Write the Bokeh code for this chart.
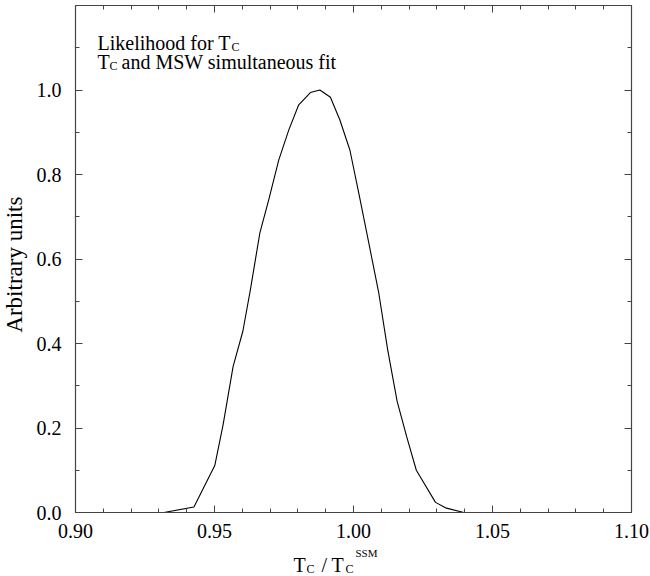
import math
from bokeh.plotting import figure
from bokeh.models import LinearAxis, FixedTicker, PrintfTickFormatter, Range1d
from bokeh.layouts import column, row
from bokeh.core.properties import value
from bokeh.embed import file_html
from bokeh.resources import INLINE

# ---- data ----
t_ratio = [0.9318, 0.9426, 0.9501, 0.9531, 0.9567, 0.9602, 0.9629, 0.9663,
           0.9695, 0.9731, 0.9767, 0.9803, 0.9845, 0.9879, 0.9917, 0.9951,
           0.9987, 1.0019, 1.0055, 1.0091, 1.0123, 1.0157, 1.0191, 1.0226,
           1.0295, 1.0331, 1.0397]
likelihood = [0.0, 0.013, 0.111, 0.208, 0.346, 0.429, 0.527, 0.661, 0.740,
              0.834, 0.905, 0.965, 0.994, 1.0, 0.983, 0.929, 0.858, 0.756,
              0.638, 0.519, 0.385, 0.263, 0.180, 0.100, 0.024, 0.011, 0.0]

x_major = [0.90, 0.95, 1.00, 1.05, 1.10]
x_minor = [round(0.90 + 0.01 * i, 2) for i in range(21)]
y_major = [0.0, 0.2, 0.4, 0.6, 0.8, 1.0]
y_minor = [round(0.1 * i, 1) for i in range(12)]

title_line1 = "Likelihood for T"
title_line2_rest = "and MSW simultaneous fit"
y_title = "Arbitrary units"

FONT = "Liberation Serif"

# ---- page geometry (pixels) ----
PAGE_W, PAGE_H = 650, 576
STRIP_W = 28           # left strip holding the y title
MAIN_H = 540           # main figure height; strip below holds the x title
F_L, F_R, F_T, F_B = 75, 631, 5, 513   # frame edges on the page
X0, X1 = 0.90, 1.10
Y0, Y1 = 0.0, 1.2


def sx(px):
    return X0 + (px - F_L) / (F_R - F_L) * (X1 - X0)


def sy(py):
    return Y0 + (F_B - py) / (F_B - F_T) * (Y1 - Y0)


p = figure(width=PAGE_W - STRIP_W, height=MAIN_H,
           x_range=Range1d(X0, X1), y_range=Range1d(Y0, Y1),
           output_backend="svg", toolbar_location=None,
           min_border_left=F_L - STRIP_W, min_border_right=PAGE_W - F_R,
           min_border_top=F_T, min_border_bottom=MAIN_H - F_B,
           x_axis_location=None, y_axis_location=None)
p.grid.visible = False
p.outline_line_color = None


def style(ax, labels, fmt, ticks, minor):
    ax.ticker = FixedTicker(ticks=ticks, minor_ticks=minor)
    ax.formatter = PrintfTickFormatter(format=fmt)
    ax.axis_line_color = "#444444"
    ax.axis_line_width = 1.2
    ax.major_tick_in = 7
    ax.major_tick_out = 0
    ax.minor_tick_in = 4
    ax.minor_tick_out = 0
    ax.major_tick_line_color = "#444444"
    ax.minor_tick_line_color = "#444444"
    ax.major_label_text_font = FONT
    ax.major_label_text_color = "black"
    ax.major_label_text_font_size = "20px"
    if not labels:
        ax.major_label_overrides = {t: "" for t in ticks}
        ax.major_label_standoff = 0


bottom = LinearAxis()
style(bottom, True, "%.2f", x_major, x_minor)
bottom.major_label_standoff = 11
p.add_layout(bottom, "below")

top = LinearAxis()
style(top, False, "%.2f", x_major, x_minor)
p.add_layout(top, "above")

left = LinearAxis()
style(left, True, "%.1f", y_major, y_minor)
left.major_label_standoff = 14
p.add_layout(left, "left")

right = LinearAxis()
style(right, False, "%.1f", y_major, y_minor)
p.add_layout(right, "right")

p.line(t_ratio, likelihood, line_color="black", line_width=1.1)


def lab(px, py, text, size):
    p.text(x=[sx(px)], y=[sy(py)], text=[text], text_font=value(FONT),
           text_font_size=size, text_color="black",
           text_align="left", text_baseline="alphabetic")


# title block inside the frame
lab(97, 43, title_line1, "20px")
lab(231, 47, "C", "12px")
lab(97, 62, "T", "20px")
lab(109, 66, "C", "12px")
lab(121, 62, title_line2_rest, "20px")


def strip(w, h):
    f = figure(width=w, height=h, x_range=Range1d(0, w), y_range=Range1d(0, h),
               output_backend="svg", toolbar_location=None,
               min_border=0, x_axis_location=None, y_axis_location=None)
    f.grid.visible = False
    f.outline_line_color = None
    return f


# left strip: y axis title
ys = strip(STRIP_W, MAIN_H)
ys.text(x=[14], y=[MAIN_H - 276], text=[y_title], angle=math.pi / 2,
        text_font=value(FONT), text_font_size="23px", text_color="black",
        text_align="center", text_baseline="middle")

# bottom strip: x axis title  T_C / T_C^SSM
bs = strip(PAGE_W, PAGE_H - MAIN_H)


def btxt(px, py, text, size):
    bs.text(x=[px], y=[PAGE_H - py], text=[text], text_font=value(FONT),
            text_font_size=size, text_color="black", text_align="left",
            text_baseline="alphabetic")


btxt(293, 564, "T", "20px")
btxt(306, 568, "C", "12px")
btxt(321, 564, "/", "20px")
btxt(331, 564, "T", "20px")
btxt(345, 568, "C", "12px")
btxt(355, 552, "SSM", "11px")

layout = column(row(ys, p), bs)
open("out.html", "w").write(file_html(layout, INLINE))
